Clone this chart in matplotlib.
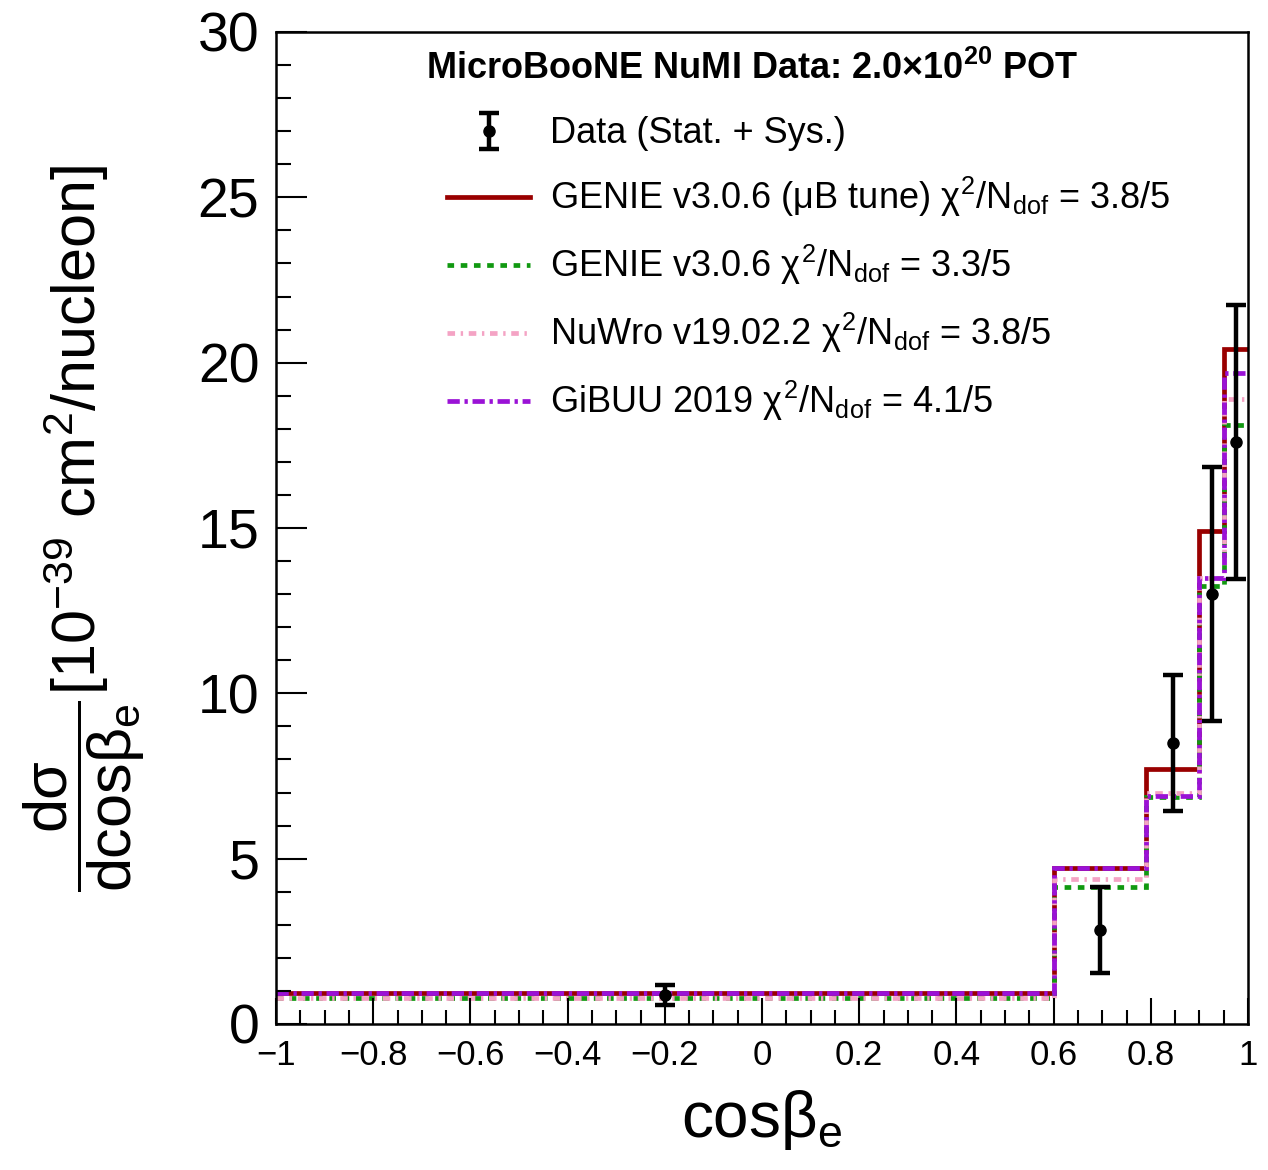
# -*- coding: utf-8 -*-
import numpy as np
import matplotlib
matplotlib.use('Agg')
import matplotlib.pyplot as plt
import matplotlib.ticker as ticker

plt.rcParams['font.family'] = 'Liberation Sans'
plt.rcParams['mathtext.fontset'] = 'custom'
plt.rcParams['mathtext.rm'] = 'Liberation Sans'
plt.rcParams['mathtext.it'] = 'Liberation Sans'
plt.rcParams['mathtext.bf'] = 'Liberation Sans:bold'
plt.rcParams['axes.unicode_minus'] = True

# bin edges in cos(beta_e)
edges = [-1.0, 0.6, 0.79, 0.9, 0.95, 1.0]

# measured cross section and total (stat + sys) error
data_xsec = [0.88, 2.85, 8.5, 13.0, 17.6]
data_err = [0.30, 1.30, 2.05, 3.85, 4.15]

# model predictions
genie_ub = [0.93, 4.72, 7.71, 14.9, 20.4]
genie = [0.80, 4.14, 6.85, 13.25, 18.1]
nuwro = [0.78, 4.38, 7.0, 13.5, 18.9]
gibuu = [0.93, 4.72, 6.9, 13.5, 19.7]

labels = [
    'Data (Stat. + Sys.)',
    r'GENIE v3.0.6 ($\mu$B tune) $\chi^{2}$/N$_{\mathrm{dof}}$ = 3.8/5',
    r'GENIE v3.0.6 $\chi^{2}$/N$_{\mathrm{dof}}$ = 3.3/5',
    r'NuWro v19.02.2 $\chi^{2}$/N$_{\mathrm{dof}}$ = 3.8/5',
    r'GiBUU 2019 $\chi^{2}$/N$_{\mathrm{dof}}$ = 4.1/5',
]

fig = plt.figure(figsize=(12.68, 11.7), dpi=100)
ax = fig.add_axes([276/1268, 1-1024/1170, 972/1268, 992/1170])

lw = 3.4
h_ub = ax.stairs(genie_ub, edges, baseline=None, color='#990000', lw=lw,
                 linestyle='-')
h_genie = ax.stairs(genie, edges, baseline=None, color='#119911', lw=lw,
                    linestyle=(0, (1.4, 1.4)))
h_nuwro = ax.stairs(nuwro, edges, baseline=None, color='#f4a3c4', lw=lw,
                    linestyle=(0, (1.6, 1.2, 0.5, 1.2)))
h_gibuu = ax.stairs(gibuu, edges, baseline=None, color='#9a12d6', lw=lw,
                    linestyle=(0, (2.6, 1.0, 0.7, 1.0)))

centers = 0.5*(np.array(edges[:-1]) + np.array(edges[1:]))
h_data = ax.errorbar(centers, data_xsec, yerr=data_err, fmt='o', color='black',
                     ms=8, elinewidth=3.2, capsize=7, capthick=3.2, zorder=10)

ax.set_xlim(-1, 1)
ax.set_ylim(0, 30)

ax.xaxis.set_major_locator(ticker.MultipleLocator(0.2))
ax.xaxis.set_minor_locator(ticker.MultipleLocator(0.05))
ax.yaxis.set_major_locator(ticker.MultipleLocator(5))
ax.yaxis.set_minor_locator(ticker.MultipleLocator(1))
ax.xaxis.set_major_formatter(ticker.FuncFormatter(
    lambda v, p: f'{round(v, 2):g}'.replace('-', '\u2212')))

for s in ax.spines.values():
    s.set_linewidth(1.8)
ax.tick_params(axis='both', which='both', direction='in', top=False,
               right=False, width=1.5)
ax.tick_params(axis='y', which='major', length=22, labelsize=40, pad=12)
ax.tick_params(axis='y', which='minor', length=11)
ax.tick_params(axis='x', which='major', length=19, labelsize=25, pad=11)
ax.tick_params(axis='x', which='minor', length=10)

ax.set_xlabel(r'cos$\beta_{\mathrm{e}}$', fontsize=46)
ax.xaxis.set_label_coords(0.5, -0.065)
ax.set_ylabel(r'$\dfrac{d\sigma}{dcos\beta_{e}}$[10$^{-39}$ cm$^{2}$/nucleon]',
              fontsize=44, va='center')
ax.yaxis.set_label_coords(-0.197, 0.5)

ax.text(0.49, 0.953, r'MicroBooNE NuMI Data: 2.0×10$^{\mathbf{20}}$ POT',
        transform=ax.transAxes, ha='center', va='baseline', fontsize=26,
        fontweight='bold')

ax.legend([h_data, h_ub, h_genie, h_nuwro, h_gibuu], labels,
          loc='upper left', bbox_to_anchor=(0.176, 0.915), frameon=False,
          fontsize=26, handlelength=2.3, handletextpad=0.55,
          labelspacing=0.66, borderpad=0, borderaxespad=0, numpoints=1)

fig.savefig('out.png', dpi=100)
